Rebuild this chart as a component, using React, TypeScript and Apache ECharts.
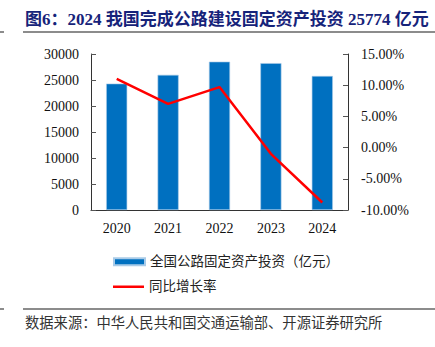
import React, { useEffect, useRef } from "react";
import * as echarts from "echarts";

const years = ["2020", "2021", "2022", "2023", "2024"];
const investment = [24312, 25995, 28527, 28240, 25774];
const growth = [11.0, 7.0, 9.7, -1.0, -8.8];
const barName = "全国公路固定资产投资（亿元）";
const lineName = "同比增长率";
const titleText = "图6：2024 我国完成公路建设固定资产投资 25774 亿元";
const sourceText = "数据来源：中华人民共和国交通运输部、开源证券研究所";

const serif = '"Liberation Serif", "Times New Roman", "Noto Sans CJK SC", serif';

export default function App() {
  const ref = useRef<HTMLDivElement>(null);
  useEffect(() => {
    if (!ref.current) return;
    const chart = echarts.init(ref.current, null, { renderer: "svg" });
    const legendText = { fontSize: 13.5, color: "#222", fontFamily: serif };
    chart.setOption({
      animation: false,
      backgroundColor: "#ffffff",
      graphic: [
        {
          type: "text",
          left: 25,
          top: 11,
          style: {
            text: titleText,
            font: `bold 17px ${serif}`,
            fill: "#16237a",
          },
        },
        { type: "rect", shape: { x: 0, y: 31, width: 4, height: 2 }, style: { fill: "#8c8c8c" } },
        { type: "rect", shape: { x: 23, y: 31, width: 412, height: 2 }, style: { fill: "#8c8c8c" } },
        { type: "rect", shape: { x: 0, y: 308, width: 4, height: 2 }, style: { fill: "#8c8c8c" } },
        { type: "rect", shape: { x: 23, y: 308, width: 412, height: 2 }, style: { fill: "#8c8c8c" } },
        {
          type: "text",
          left: 25,
          top: 316,
          style: {
            text: sourceText,
            font: `14.3px ${serif}`,
            fill: "#333333",
          },
        },
      ],
      legend: [
        {
          left: 108,
          top: 250,
          itemWidth: 31,
          itemHeight: 7,
          itemGap: 6,
          textStyle: legendText,
          data: [{ name: barName, icon: "rect" }],
        },
        {
          left: 108,
          top: 275,
          itemWidth: 31,
          itemHeight: 2.5,
          itemGap: 6,
          textStyle: legendText,
          data: [{ name: lineName, icon: "rect", itemStyle: { color: "#ff0000" } }],
        },
      ],
      grid: { left: 91, right: 87, top: 54, bottom: 137, containLabel: false },
      xAxis: {
        type: "category",
        data: years,
        axisLine: { lineStyle: { color: "#333", width: 1 } },
        axisTick: { inside: true, length: 4, lineStyle: { color: "#555" } },
        axisLabel: { color: "#111", fontSize: 14, fontFamily: serif, margin: 11 },
      },
      yAxis: [
        {
          type: "value",
          min: 0,
          max: 30000,
          interval: 5000,
          splitLine: { show: false },
          axisLine: { show: true, lineStyle: { color: "#333" } },
          axisTick: { show: true, inside: true, length: 5, lineStyle: { color: "#555" } },
          axisLabel: {
            color: "#111",
            fontSize: 14,
            fontFamily: serif,
            margin: 12,
            formatter: (v: number) => String(v),
          },
        },
        {
          type: "value",
          min: -10,
          max: 15,
          interval: 5,
          position: "right",
          splitLine: { show: false },
          axisLine: { show: true, lineStyle: { color: "#333" } },
          axisTick: { show: true, inside: true, length: 5, lineStyle: { color: "#555" } },
          axisLabel: {
            color: "#111",
            fontSize: 14,
            fontFamily: serif,
            margin: 13,
            formatter: (v: number) => v.toFixed(2) + "%",
          },
        },
      ],
      series: [
        {
          name: barName,
          type: "bar",
          data: investment,
          barWidth: "41%",
          itemStyle: { color: "#0070c0", borderColor: "#a9cbe8", borderWidth: 0.6 },
          yAxisIndex: 0,
        },
        {
          name: lineName,
          type: "line",
          data: growth,
          yAxisIndex: 1,
          symbol: "none",
          lineStyle: { color: "#ff0000", width: 2.5 },
          itemStyle: { color: "#ff0000" },
        },
      ],
    });
    return () => chart.dispose();
  }, []);
  return <div ref={ref} style={{ width: 435, height: 347, position: "absolute", left: 0, top: 0 }} />;
}
